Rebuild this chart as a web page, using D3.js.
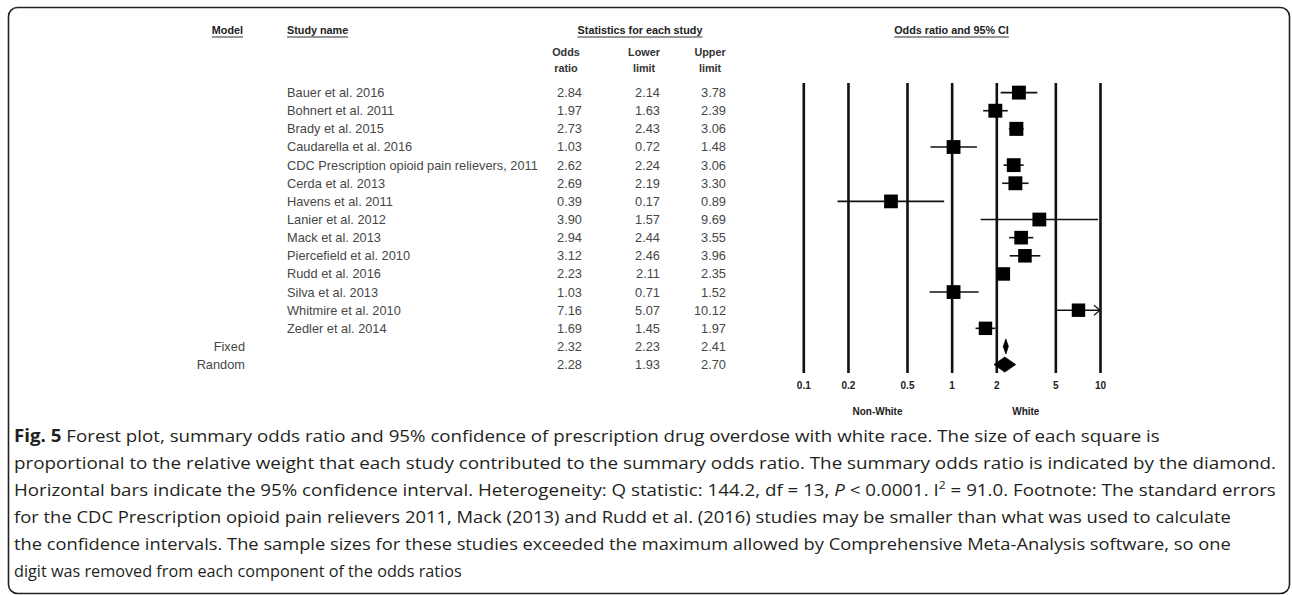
<!DOCTYPE html>
<html>
<head>
<meta charset="utf-8">
<script src="https://cdn.jsdelivr.net/npm/d3@7"></script>
<style>
  html, body { margin: 0; padding: 0; background: #fff; }
  svg { display: block; }
</style>
</head>
<body>
<svg id="chart" width="1292" height="595"></svg>
<script>
// ---------------- data ----------------
const studies = [
  "Bauer et al. 2016",
  "Bohnert et al. 2011",
  "Brady et al. 2015",
  "Caudarella et al. 2016",
  "CDC Prescription opioid pain relievers, 2011",
  "Cerda et al. 2013",
  "Havens et al. 2011",
  "Lanier et al. 2012",
  "Mack et al. 2013",
  "Piercefield et al. 2010",
  "Rudd et al. 2016",
  "Silva et al. 2013",
  "Whitmire et al. 2010",
  "Zedler et al. 2014"
];
const oddsRatio = [2.84, 1.97, 2.73, 1.03, 2.62, 2.69, 0.39, 3.90, 2.94, 3.12, 2.23, 1.03, 7.16, 1.69];
const lowerLimit = [2.14, 1.63, 2.43, 0.72, 2.24, 2.19, 0.17, 1.57, 2.44, 2.46, 2.11, 0.71, 5.07, 1.45];
const upperLimit = [3.78, 2.39, 3.06, 1.48, 3.06, 3.30, 0.89, 9.69, 3.55, 3.96, 2.35, 1.52, 10.12, 1.97];
const relWeight = [7.4, 7.4, 7.5, 7.3, 7.3, 7.4, 7.2, 7.3, 7.1, 7.0, 7.0, 7.3, 6.9, 6.9];

const models = ["Fixed", "Random"];
const modelOR = [2.32, 2.28];
const modelLower = [2.23, 1.93];
const modelUpper = [2.41, 2.70];

const axisTicks = [0.1, 0.2, 0.5, 1, 2, 5, 10];
const sideLabels = ["Non-White", "White"];

const captionLines = [
  [{t: "Fig. 5", b: true}, {t: " Forest plot, summary odds ratio and 95% confidence of prescription drug overdose with white race. The size of each square is"}],
  [{t: "proportional to the relative weight that each study contributed to the summary odds ratio. The summary odds ratio is indicated by the diamond."}],
  [{t: "Horizontal bars indicate the 95% confidence interval. Heterogeneity: Q statistic: 144.2, df = 13, "}, {t: "P", i: true}, {t: " < 0.0001. I"}, {t: "2", sup: true}, {t: " = 91.0. Footnote: The standard errors"}],
  [{t: "for the CDC Prescription opioid pain relievers 2011, Mack (2013) and Rudd et al. (2016) studies may be smaller than what was used to calculate"}],
  [{t: "the confidence intervals. The sample sizes for these studies exceeded the maximum allowed by Comprehensive Meta-Analysis software, so one"}],
  [{t: "digit was removed from each component of the odds ratios"}]
];
const captionEnds = [1160, 1277, 1277, 1232, 1232, 462];

// ---------------- layout ----------------
const svg = d3.select("#chart");
const tableFont = "'Liberation Sans', Arial, sans-serif";

// frame
svg.append("rect")
  .attr("x", 8.5).attr("y", 7.5)
  .attr("width", 1281).attr("height", 586)
  .attr("rx", 9).attr("ry", 9)
  .attr("fill", "none").attr("stroke", "#222").attr("stroke-width", 1.6);

const nRows = studies.length + models.length;
const y = d3.scalePoint().domain(d3.range(nRows)).range([92.6, 364.6]);
const x = d3.scaleLog().domain([0.1, 10]).range([803.3, 1100]);
const sizeScale = d3.scaleSqrt().domain([0, d3.max(relWeight)]).range([0, 14]);

// ---------------- headers ----------------
function header(txt, xPos, yPos, anchor) {
  const t = svg.append("text")
    .attr("x", xPos).attr("y", yPos)
    .attr("text-anchor", anchor)
    .attr("font-family", tableFont)
    .attr("font-weight", "bold")
    .attr("font-size", 10.8)
    .attr("fill", "#222")
    .text(txt);
  const bb = t.node().getBBox();
  svg.append("line")
    .attr("x1", bb.x).attr("x2", bb.x + bb.width)
    .attr("y1", yPos + 3.5).attr("y2", yPos + 3.5)
    .attr("stroke", "#333").attr("stroke-width", 1);
}
header("Model", 243, 33.5, "end");
header("Study name", 287, 33.5, "start");
header("Statistics for each study", 640, 33.5, "middle");
header("Odds ratio and 95% CI", 951.5, 33.5, "middle");

const colX = {or: 582, lo: 660, up: 726};
const subHeads = [["Odds", "ratio", colX.or], ["Lower", "limit", colX.lo], ["Upper", "limit", colX.up]];
subHeads.forEach(([a, b, cx]) => {
  [a, b].forEach((w, k) => {
    svg.append("text")
      .attr("x", cx - 16).attr("y", 56 + k * 16)
      .attr("text-anchor", "middle")
      .attr("font-family", tableFont)
      .attr("font-weight", "bold")
      .attr("font-size", 10.8)
      .attr("fill", "#333")
      .text(w);
  });
});

// ---------------- table rows ----------------
const rowText = svg.append("g")
  .attr("font-family", tableFont)
  .attr("font-size", 12.8)
  .attr("fill", "#474747");

studies.forEach((s, i) => {
  rowText.append("text").attr("x", 287).attr("y", y(i)).attr("dy", "0.35em").text(s);
});
models.forEach((m, j) => {
  rowText.append("text").attr("x", 245).attr("y", y(studies.length + j))
    .attr("dy", "0.35em").attr("text-anchor", "end").text(m);
});
const allOR = oddsRatio.concat(modelOR);
const allLo = lowerLimit.concat(modelLower);
const allUp = upperLimit.concat(modelUpper);
d3.range(nRows).forEach(i => {
  [[allOR[i], colX.or], [allLo[i], colX.lo], [allUp[i], colX.up]].forEach(([v, cx]) => {
    rowText.append("text").attr("x", cx).attr("y", y(i)).attr("dy", "0.35em")
      .attr("text-anchor", "end").text(d3.format(".2f")(v));
  });
});

// ---------------- axis / reference lines ----------------
const axisY = 373;
const axisG = svg.append("g")
  .attr("transform", `translate(0,${axisY})`)
  .call(d3.axisBottom(x).tickValues(axisTicks)
    .tickFormat(d => String(d))
    .tickSizeInner(-(axisY - 83)).tickSizeOuter(0).tickPadding(9));
axisG.select(".domain").remove();
axisG.selectAll(".tick line").attr("stroke", "#111").attr("stroke-width", 2.6);
axisG.selectAll(".tick text")
  .attr("font-family", tableFont).attr("font-weight", "bold")
  .attr("font-size", 10).attr("fill", "#222");

svg.selectAll(".side").data(sideLabels).enter().append("text")
  .attr("x", (d, i) => i === 0 ? (x(0.1) + x(1)) / 2 : (x(1) + x(10)) / 2)
  .attr("y", 415)
  .attr("text-anchor", "middle")
  .attr("font-family", tableFont).attr("font-weight", "bold")
  .attr("font-size", 10).attr("fill", "#222")
  .text(d => d);

// ---------------- study CIs and squares ----------------
const dom = x.domain();
const clip = v => Math.max(dom[0], Math.min(dom[1], v));
const plotG = svg.append("g");
studies.forEach((s, i) => {
  const yi = y(i);
  plotG.append("line")
    .attr("x1", x(clip(lowerLimit[i]))).attr("x2", x(clip(upperLimit[i])))
    .attr("y1", yi).attr("y2", yi)
    .attr("stroke", "#111").attr("stroke-width", 1.6);
  if (upperLimit[i] > dom[1]) {
    const ax = x(dom[1]);
    plotG.append("path")
      .attr("d", `M${ax - 6},${yi - 5}L${ax},${yi}L${ax - 6},${yi + 5}`)
      .attr("fill", "none").attr("stroke", "#111").attr("stroke-width", 1.2);
  }
  const sz = sizeScale(relWeight[i]);
  plotG.append("rect")
    .attr("x", x(oddsRatio[i]) - sz / 2).attr("y", yi - sz / 2)
    .attr("width", sz).attr("height", sz)
    .attr("fill", "#000");
});

// ---------------- summary diamonds ----------------
models.forEach((m, j) => {
  const yi = y(studies.length + j);
  const h = 7.5;
  plotG.append("path")
    .attr("d", `M${x(modelLower[j])},${yi}L${x(modelOR[j])},${yi - h}L${x(modelUpper[j])},${yi}L${x(modelOR[j])},${yi + h}Z`)
    .attr("fill", "#000").attr("stroke", "#000").attr("stroke-width", 0.8);
});

// ---------------- caption ----------------
const capG = svg.append("g")
  .attr("font-family", "'Open Sans', 'Noto Sans', sans-serif")
  .attr("font-size", 17)
  .attr("fill", "#231f20");
const capX = 14;
captionLines.forEach((parts, li) => {
  const g = capG.append("g");
  const t = g.append("text").attr("x", 0).attr("y", 0);
  parts.forEach(p => {
    const ts = t.append("tspan").text(p.t);
    if (p.b) ts.attr("font-weight", "bold");
    if (p.i) ts.attr("font-style", "italic");
    if (p.sup) ts.attr("dy", -7).attr("font-size", 11);
  });
  t.selectAll("tspan").each(function(d, k) {
    if (k > 0 && parts[k - 1].sup) d3.select(this).attr("dy", 7);
  });
  const w = t.node().getComputedTextLength();
  const sx = (captionEnds[li] - capX) / w;
  g.attr("transform", `translate(${capX},${442 + li * 27}) scale(${sx},1)`);
});
</script>
</body>
</html>
